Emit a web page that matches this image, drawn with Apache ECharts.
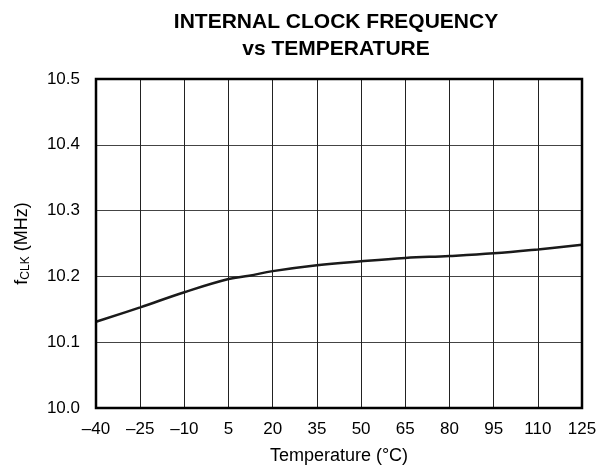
<!DOCTYPE html>
<html><head><meta charset="utf-8">
<script src="https://cdn.jsdelivr.net/npm/echarts@6/dist/echarts.min.js"></script>
<style>html,body{margin:0;padding:0;background:#fff}#c{width:608px;height:470px}</style>
</head><body><div id="c"></div>
<script>
const temps = [-40, -25, -10, 5, 12, 20, 35, 50, 65, 80, 95, 110, 125];
const freq = [10.131, 10.153, 10.176, 10.196, 10.201, 10.208, 10.217, 10.223, 10.228, 10.231, 10.235, 10.241, 10.248];
const xTicks = [-40, -25, -10, 5, 20, 35, 50, 65, 80, 95, 110, 125];
const yTicks = [10.0, 10.1, 10.2, 10.3, 10.4, 10.5];
const data = temps.map((t, i) => [t, freq[i]]);
const font = 'Liberation Sans, Arial, sans-serif';
const chart = echarts.init(document.getElementById('c'));
chart.setOption({
  animation: false,
  title: {
    text: 'INTERNAL CLOCK FREQUENCY\nvs TEMPERATURE',
    left: 331, top: 4, textAlign: 'center',
    textStyle: {fontFamily: font, fontWeight: 'bold', fontSize: 21, color: '#000', lineHeight: 27}
  },
  grid: {left: 96, right: 26, top: 79, bottom: 62},
  xAxis: {
    type: 'value', min: -40, max: 125, interval: 15,
    name: 'Temperature (°C)', nameLocation: 'middle', nameGap: 39,
    nameTextStyle: {fontFamily: font, fontSize: 18, color: '#000'},
    axisLine: {show: false}, axisTick: {show: false},
    axisLabel: {fontFamily: font, fontSize: 17, color: '#000', margin: 13,
      formatter: v => String(v).replace('-', '–')},
    splitLine: {lineStyle: {color: '#222', width: 1}}
  },
  yAxis: {
    type: 'value', min: 10.0, max: 10.5, interval: 0.1,
    name: '{f|f}{s|CLK}{f| (MHz)}', nameLocation: 'middle', nameGap: 64,
    nameTextStyle: {fontFamily: font, color: '#000',
      rich: {f: {fontFamily: font, fontSize: 18, color: '#000'},
             s: {fontFamily: font, fontSize: 12, color: '#000', verticalAlign: 'bottom', padding: [8,0,0,0]}}},
    axisLine: {show: false}, axisTick: {show: false},
    axisLabel: {fontFamily: font, fontSize: 17, color: '#000', margin: 16,
      formatter: v => v.toFixed(1)},
    splitLine: {lineStyle: {color: '#444', width: 1}}
  },
  series: [{
    type: 'line', data: data, smooth: 0.4, symbol: 'none',
    lineStyle: {color: '#1a1a1a', width: 2.5}
  }],
  graphic: [{
    type: 'rect', shape: {x: 96, y: 79, width: 486, height: 329},
    style: {fill: 'none', stroke: '#000', lineWidth: 2.5}, z: 100
  }]
});
</script></body></html>
